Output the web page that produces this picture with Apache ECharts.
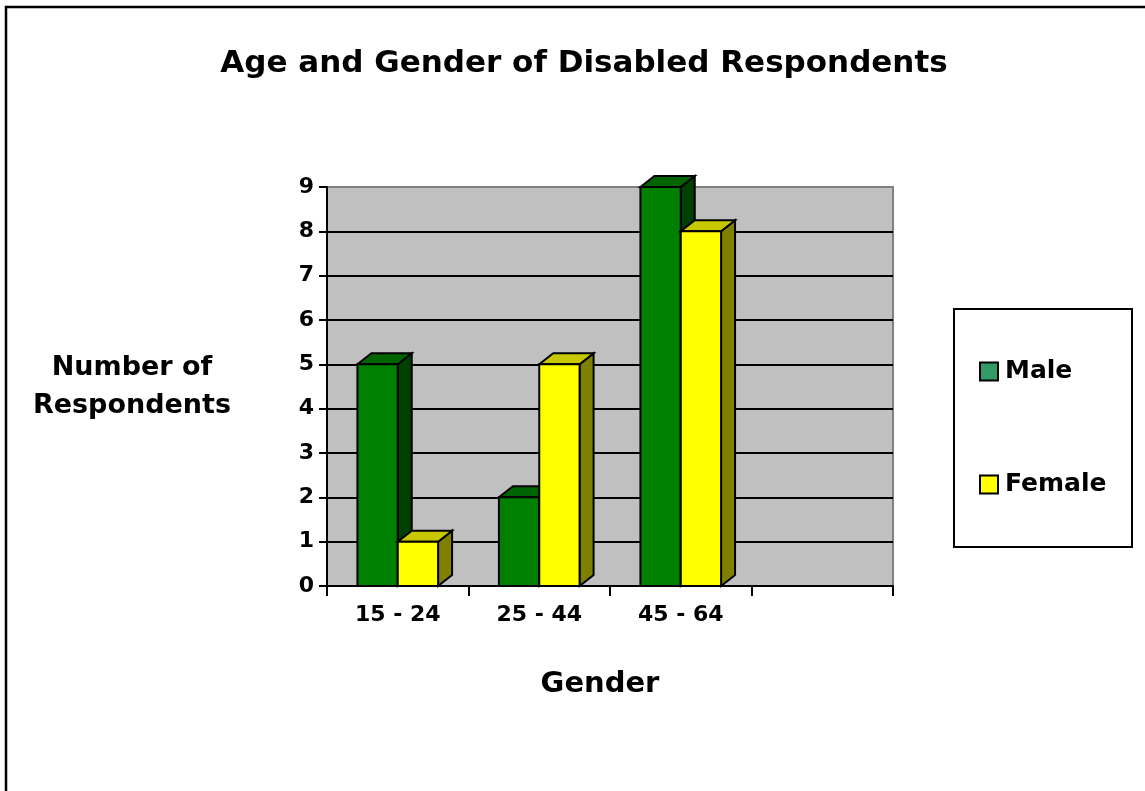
<!DOCTYPE html>
<html>
<head>
<meta charset="utf-8">
<script src="https://cdn.jsdelivr.net/npm/echarts@6/dist/echarts.min.js"></script>
<style>
  html, body { margin: 0; padding: 0; background: #fff; }
  #chart { width: 1145px; height: 791px; }
</style>
</head>
<body>
<div id="chart"></div>
<script>
// data
const categories = ["15 - 24", "25 - 44", "45 - 64", ""];
const maleCounts = [5, 2, 9];
const femaleCounts = [1, 5, 8];
const yMin = 0;
const yMax = 9;
const yStep = 1;

const font = "DejaVu Sans";
const chart = echarts.init(document.getElementById("chart"));

// faces of the 3d-looking bars: front, top, side
const faces = [
  { front: "#008000", top: "#006400", side: "#004000" },
  { front: "#FFFF00", top: "#C8C800", side: "#808000" },
];
const depthX = 14;
const depthY = 11;

function barRenderer(idx) {
  return function (params, api) {
    const cat = api.value(0);
    const val = api.value(1);
    const top = api.coord([cat, val]);
    const base = api.coord([cat, 0]);
    const band = api.size([1, 0])[0];
    const w = band * 0.285;
    const x0 = top[0] - w + idx * w;
    const x1 = x0 + w;
    const yt = top[1];
    const yb = base[1];
    const c = faces[idx];
    const stroke = { stroke: "#000", lineWidth: 2, lineJoin: "miter" };
    return {
      type: "group",
      children: [
        {
          type: "polygon",
          shape: { points: [[x1, yt], [x1 + depthX, yt - depthY], [x1 + depthX, yb - depthY], [x1, yb]] },
          style: Object.assign({ fill: c.side }, stroke),
        },
        {
          type: "polygon",
          shape: { points: [[x0, yt], [x0 + depthX, yt - depthY], [x1 + depthX, yt - depthY], [x1, yt]] },
          style: Object.assign({ fill: c.top }, stroke),
        },
        {
          type: "rect",
          shape: { x: x0, y: yt, width: w, height: yb - yt },
          style: Object.assign({ fill: c.front }, stroke),
        },
      ],
    };
  };
}

const gridLineColors = [];
for (let v = yMin; v <= yMax; v += yStep) {
  gridLineColors.push(v === yMax ? "#808080" : "#000");
}

const option = {
  backgroundColor: "#fff",
  animation: false,
  textStyle: { fontFamily: font, fontWeight: "bold", color: "#000" },
  title: {
    text: "Age and Gender of Disabled Respondents",
    left: 579,
    top: 43,
    textAlign: "center",
    textStyle: { fontFamily: font, fontWeight: "bold", fontSize: 31, color: "#000" },
  },
  grid: {
    left: 327,
    right: 252,
    top: 187,
    bottom: 205,
    show: true,
    backgroundColor: "#C0C0C0",
    borderColor: "#808080",
    borderWidth: 2,
  },
  legend: {
    orient: "vertical",
    left: 979,
    top: 359,
    padding: 0,
    itemGap: 88,
    itemWidth: 18,
    itemHeight: 18,
    icon: "rect",
    itemStyle: { borderColor: "#000", borderWidth: 2 },
    textStyle: { fontFamily: font, fontWeight: "bold", fontSize: 25, color: "#000", padding: [0, 0, 0, 2] },
    data: ["Male", "Female"],
  },
  xAxis: {
    type: "category",
    data: categories,
    boundaryGap: true,
    name: "Gender",
    nameLocation: "middle",
    nameGap: 84,
    nameTextStyle: { fontFamily: font, fontWeight: "bold", fontSize: 29, color: "#000", padding: [0, 20, 0, 0] },
    axisLine: { lineStyle: { color: "#000", width: 2 } },
    axisTick: { show: true, length: 10, lineStyle: { color: "#000", width: 2 } },
    axisLabel: { margin: 18, fontFamily: font, fontWeight: "bold", fontSize: 22, color: "#000" },
    splitLine: { show: false },
  },
  yAxis: {
    type: "value",
    min: yMin,
    max: yMax,
    interval: yStep,
    name: "Number of\nRespondents",
    nameLocation: "middle",
    nameRotate: 0,
    nameGap: 195,
    nameTextStyle: {
      fontFamily: font, fontWeight: "bold", fontSize: 27, color: "#000",
      align: "center", verticalAlign: "middle", lineHeight: 38,
    },
    axisLine: { show: true, lineStyle: { color: "#000", width: 2 } },
    axisTick: { show: true, length: 8, lineStyle: { color: "#000", width: 2 } },
    axisLabel: { margin: 13, fontFamily: font, fontWeight: "bold", fontSize: 22, color: "#000" },
    splitLine: { show: true, lineStyle: { color: gridLineColors, width: 2 } },
  },
  graphic: [
    // outer chart frame (runs off the right and bottom of the picture)
    {
      type: "rect",
      shape: { x: 6, y: 7, width: 1200, height: 900 },
      style: { fill: "none", stroke: "#000", lineWidth: 2.5 },
      z: 100,
    },
    // legend box
    {
      type: "rect",
      shape: { x: 954, y: 309, width: 178, height: 238 },
      style: { fill: "#fff", stroke: "#000", lineWidth: 2 },
      z: -1,
    },
  ],
  series: [
    {
      name: "Male",
      type: "custom",
      itemStyle: { color: "#339966" },
      renderItem: barRenderer(0),
      encode: { x: 0, y: 1 },
      data: maleCounts.map((v, i) => [i, v]),
    },
    {
      name: "Female",
      type: "custom",
      itemStyle: { color: "#FFFF00" },
      renderItem: barRenderer(1),
      encode: { x: 0, y: 1 },
      data: femaleCounts.map((v, i) => [i, v]),
    },
  ],
};

chart.setOption(option);
</script>
</body>
</html>
